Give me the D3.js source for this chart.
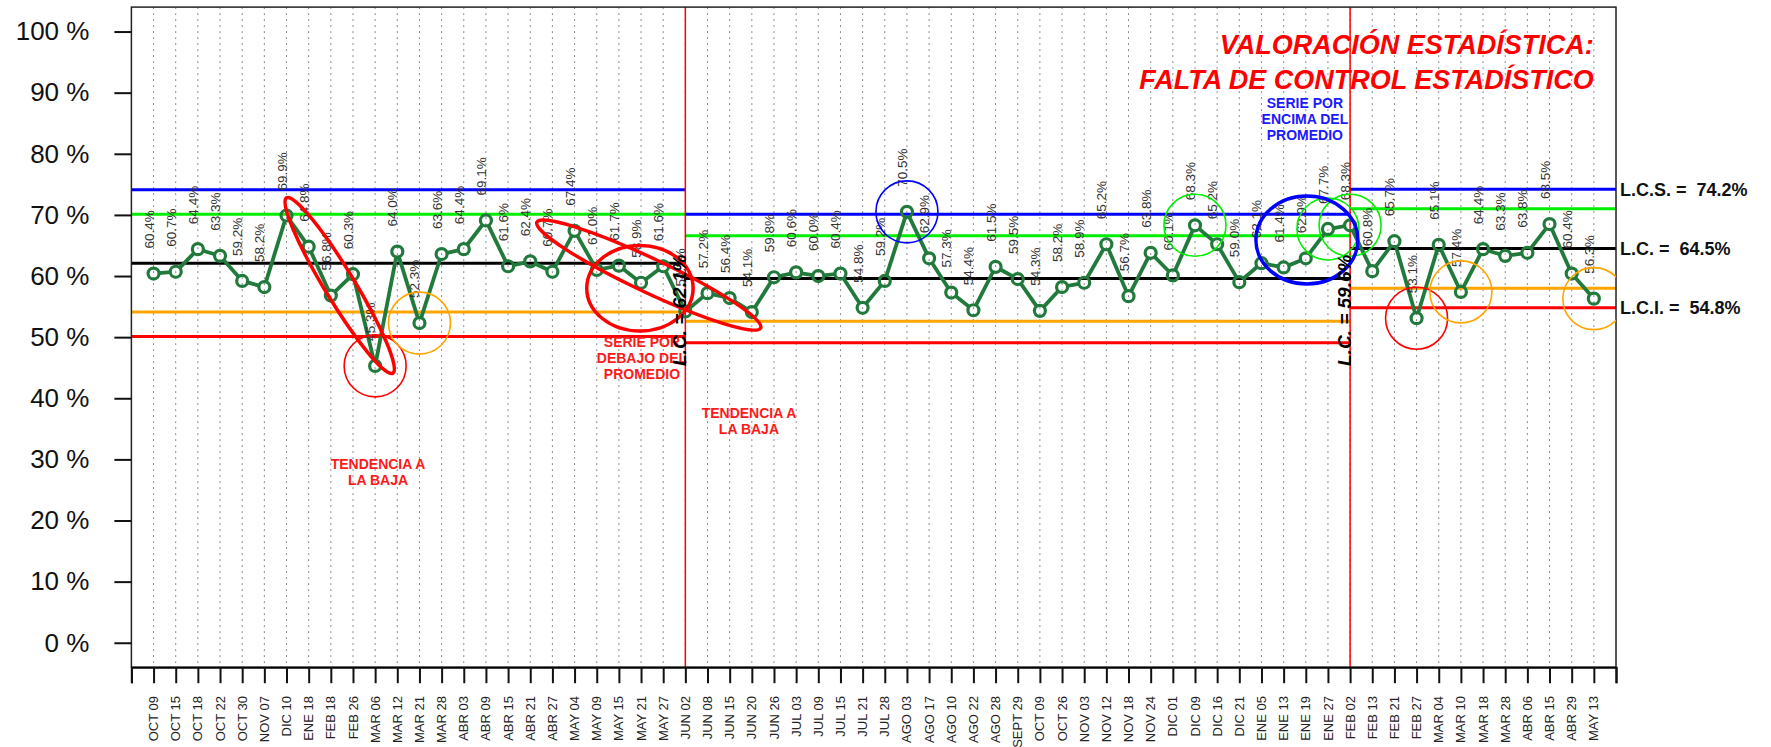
<!DOCTYPE html>
<html>
<head>
<meta charset="utf-8">
<style>
body { margin: 0; background: #fff; }
svg { display: block; }
text { font-family: "Liberation Sans", Arial, sans-serif; }
.narrow { font-family: "Liberation Sans Narrow", "Arial Narrow", "Liberation Sans", sans-serif; }
</style>
</head>
<body>
<svg width="1771" height="747"></svg>
<script src="https://d3js.org/d3.v7.min.js"></script>
<script>

var svg = d3.select("svg"),
    width = +svg.attr("width"),
    height = +svg.attr("height");

// fechas de cada medición
var fechas = ["OCT 09","OCT 15","OCT 18","OCT 22","OCT 30","NOV 07","DIC 10","ENE 18","FEB 18","FEB 26",
  "MAR 06","MAR 12","MAR 21","MAR 28","ABR 03","ABR 09","ABR 15","ABR 21","ABR 27","MAY 04",
  "MAY 09","MAY 15","MAY 21","MAY 27","JUN 02","JUN 08","JUN 15","JUN 20","JUN 26","JUL 03",
  "JUL 09","JUL 15","JUL 21","JUL 28","AGO 03","AGO 17","AGO 10","AGO 22","AGO 28","SEPT 29",
  "OCT 09","OCT 26","NOV 03","NOV 12","NOV 18","NOV 24","DIC 01","DIC 09","DIC 16","DIC 21",
  "ENE 05","ENE 13","ENE 19","ENE 27","FEB 02","FEB 13","FEB 21","FEB 27","MAR 04","MAR 10",
  "MAR 18","MAR 28","ABR 06","ABR 15","ABR 29","MAY 13"];

var valores = [60.4,60.7,64.4,63.3,59.2,58.2,69.9,64.8,56.8,60.3,
  45.3,64.0,52.3,63.6,64.4,69.1,61.6,62.4,60.7,67.4,
  61.0,61.7,58.9,61.6,54.2,57.2,56.4,54.1,59.8,60.6,
  60.0,60.4,54.8,59.2,70.5,62.9,57.3,54.4,61.5,59.5,
  54.3,58.2,58.9,65.2,56.7,63.8,60.1,68.3,65.2,59.0,
  62.1,61.4,62.9,67.7,68.3,60.8,65.7,53.1,65.1,57.4,
  64.4,63.3,63.8,68.5,60.4,56.3];

// tramos con sus límites
var tramoIni = [0, 25, 55],
    tramoFin = [25, 55, 67],
    lcs  = [74.1, 70.1, 74.2],
    lcs2 = [70.1, 66.6, 71.0],
    lc   = [62.1, 59.6, 64.5],
    lci2 = [54.1, 52.6, 58.0],
    lci  = [50.1, 49.1, 54.8];
var cortes = [25, 55];
var lcTexto = ["L.C. = 62.1%", "L.C. = 59.6%"];
var finalTexto = ["L.C.S. =  74.2%", "L.C. =  64.5%", "L.C.I. =  54.8%"];
var finalValor = [74.2, 64.5, 54.8];
var yTicks = [0, 10, 20, 30, 40, 50, 60, 70, 80, 90, 100];

// anillos alrededor de puntos (posición 1..66)
var anilloPos   = [11, 13, 35, 48, 54, 55, 58, 60, 66];
var anilloColor = ["#ff0000", "#ffa500", "#0000ff", "#00ee00", "#00ee00", "#00ee00", "#ff0000", "#ffa500", "#ffa500"];

// elipses inclinadas: extremos (posición, valor)
var elipseDesde = [[7.0, 72.8], [18.3, 68.8]],
    elipseHasta = [[11.8, 44.1], [28.4, 51.5]];
// elipses gruesas: centro y radios (posiciones, puntos %)
var ovaloCentro = [[22.95, 58.0], [53.05, 65.9]],
    ovaloRadio  = [[2.4, 7.0], [2.3, 7.2]],
    ovaloColor  = ["#ff0000", "#0000ff"];

var notaTexto = [["SERIE POR", "ENCIMA DEL", "PROMEDIO"], ["SERIE POR", "DEBAJO DEL", "PROMEDIO"],
                 ["TENDENCIA A", "LA BAJA"], ["TENDENCIA A", "LA BAJA"]];
var notaPos   = [[52.96, 87.5], [23.04, 48.4], [11.13, 28.4], [27.87, 36.8]];
var notaColor = ["#1a1aff", "#ff1a1a", "#ff1a1a", "#ff1a1a"];

var pL = 131.4, pR = 1616, pT = 7.1, pB = 667.2;

var x = d3.scaleLinear().domain([0, 67]).range([pL, pR]),
    y = d3.scaleLinear().domain([-4, 104]).range([pB, pT]);

svg.append("defs").append("clipPath").attr("id", "plot")
  .append("rect").attr("x", pL).attr("y", pT).attr("width", pR - pL).attr("height", pB - pT);

// cuadrícula punteada
svg.append("g").selectAll("line").data(fechas).enter().append("line")
  .attr("x1", (d, i) => x(i + 1)).attr("x2", (d, i) => x(i + 1))
  .attr("y1", pT).attr("y2", pB)
  .attr("stroke", "#8c8c8c").attr("stroke-width", 1).attr("stroke-dasharray", "2,4");

// líneas de control
var limites = [[lcs, "#0000ff"], [lcs2, "#00ee00"], [lc, "#000"], [lci2, "#ffa500"], [lci, "#ff0000"]];
limites.forEach(function(l) {
  svg.append("g").selectAll("line").data(l[0]).enter().append("line")
    .attr("x1", (d, i) => x(tramoIni[i])).attr("x2", (d, i) => x(tramoFin[i]))
    .attr("y1", d => y(d)).attr("y2", d => y(d))
    .attr("stroke", l[1]).attr("stroke-width", 3);
});

// cortes
svg.append("g").selectAll("line").data(cortes).enter().append("line")
  .attr("x1", d => x(d)).attr("x2", d => x(d))
  .attr("y1", pT).attr("y2", pB)
  .attr("stroke", "#ff0000").attr("stroke-width", 1.5);

// marco y ejes
svg.append("rect").attr("x", pL).attr("y", pT).attr("width", pR - pL).attr("height", pB - pT)
  .attr("fill", "none").attr("stroke", "#222").attr("stroke-width", 1.5);

var xAxis = d3.axisBottom(x).tickValues(d3.range(0, 68)).tickSize(16).tickFormat("");
svg.append("g").attr("transform", "translate(0," + pB + ")").call(xAxis)
  .call(g => g.select(".domain").attr("stroke-width", 2))
  .call(g => g.selectAll(".tick line").attr("stroke-width", 2).attr("stroke", "#111"));

svg.append("g").selectAll("text").data(fechas).enter().append("text")
  .attr("transform", (d, i) => "translate(" + x(i + 1) + ",696) rotate(-90)")
  .attr("text-anchor", "end").attr("dy", "0.35em")
  .attr("font-size", 13).attr("fill", "#222")
  .text(d => d);

var yAxis = d3.axisLeft(y).tickValues(yTicks).tickSize(17).tickPadding(25).tickFormat(d => d + " %");
svg.append("g").attr("transform", "translate(" + pL + ",0)").call(yAxis)
  .call(g => g.select(".domain").remove())
  .call(g => g.selectAll(".tick line").attr("stroke-width", 2).attr("stroke", "#111"))
  .call(g => g.selectAll(".tick text").attr("font-family", null)
    .style("font-family", '"Liberation Sans", Arial, sans-serif').attr("font-size", 26).attr("fill", "#111"));

// serie
var r = 5.5, verde = "#217a3c";
var puntos = valores.map((v, i) => [x(i + 1), y(v)]);
var segs = [];
for (var i = 0; i < puntos.length - 1; i++) {
  var a = puntos[i], b = puntos[i + 1],
      dx = b[0] - a[0], dy = b[1] - a[1], L = Math.sqrt(dx * dx + dy * dy);
  segs.push([[a[0] + dx / L * r, a[1] + dy / L * r], [b[0] - dx / L * r, b[1] - dy / L * r]]);
}
svg.append("g").selectAll("line").data(segs).enter().append("line")
  .attr("x1", d => d[0][0]).attr("y1", d => d[0][1])
  .attr("x2", d => d[1][0]).attr("y2", d => d[1][1])
  .attr("stroke", verde).attr("stroke-width", 3.8);
svg.append("g").selectAll("circle").data(valores).enter().append("circle")
  .attr("cx", (d, i) => x(i + 1)).attr("cy", d => y(d)).attr("r", r)
  .attr("fill", "none").attr("stroke", verde).attr("stroke-width", 3.2);

// etiquetas de valores
svg.append("g").selectAll("text").data(valores).enter().append("text")
  .attr("class", "narrow")
  .attr("transform", (d, i) => "translate(" + x(i + 1) + "," + (y(d) - 25) + ") rotate(-90)")
  .attr("font-size", 13.5).attr("fill", "#333")
  .text(d => d.toFixed(1) + "%");

// anotaciones
var notas = svg.append("g").attr("clip-path", "url(#plot)");
notas.selectAll(".anillo").data(anilloPos).enter().append("circle")
  .attr("cx", d => x(d)).attr("cy", d => y(valores[d - 1])).attr("r", 31)
  .attr("fill", "none").attr("stroke", (d, i) => anilloColor[i]).attr("stroke-width", 1.6);

elipseDesde.forEach(function(p, i) {
  var q = elipseHasta[i],
      x0 = x(p[0]), y0 = y(p[1]), x1 = x(q[0]), y1 = y(q[1]),
      ang = Math.atan2(y1 - y0, x1 - x0) * 180 / Math.PI,
      len = Math.sqrt((x1 - x0) * (x1 - x0) + (y1 - y0) * (y1 - y0));
  notas.append("ellipse")
    .attr("transform", "translate(" + (x0 + x1) / 2 + "," + (y0 + y1) / 2 + ") rotate(" + ang + ")")
    .attr("rx", len / 2).attr("ry", i == 0 ? 15 : 17)
    .attr("fill", "none").attr("stroke", "#ff0000").attr("stroke-width", 3.5);
});

ovaloCentro.forEach(function(c, i) {
  notas.append("ellipse")
    .attr("cx", x(c[0])).attr("cy", y(c[1]))
    .attr("rx", x(c[0] + ovaloRadio[i][0]) - x(c[0]))
    .attr("ry", y(c[1]) - y(c[1] + ovaloRadio[i][1]))
    .attr("fill", "none").attr("stroke", ovaloColor[i]).attr("stroke-width", 3.5);
});

notaTexto.forEach(function(t, i) {
  var g = svg.append("text").attr("text-anchor", "middle").attr("font-weight", "bold")
    .attr("font-size", 14).attr("fill", notaColor[i]);
  t.forEach(function(s, k) {
    g.append("tspan").attr("x", x(notaPos[i][0])).attr("y", y(notaPos[i][1]) + k * 16).text(s);
  });
});

// títulos de línea central en los cortes
svg.append("g").selectAll("text").data(cortes).enter().append("text")
  .attr("transform", d => "translate(" + (x(d) + 1) + ",366) rotate(-90)")
  .attr("font-size", 19).attr("font-weight", "bold").attr("font-style", "italic").attr("fill", "#000")
  .text((d, i) => lcTexto[i]);

// etiquetas finales
svg.append("g").selectAll("text").data(finalValor).enter().append("text")
  .attr("x", pR + 4).attr("y", d => y(d)).attr("dy", "0.35em")
  .attr("font-size", 18).attr("font-weight", "bold").attr("fill", "#111")
  .style("white-space", "pre")
  .text((d, i) => finalTexto[i]);

// título
var titulo = svg.append("text").attr("text-anchor", "end").attr("font-weight", "bold")
  .attr("font-style", "italic").attr("font-size", 27).attr("fill", "#ff0000");
titulo.append("tspan").attr("x", x(66)).attr("y", y(96.3)).text("VALORACIÓN ESTADÍSTICA:");
titulo.append("tspan").attr("x", x(66)).attr("y", y(90.6)).text("FALTA DE CONTROL ESTADÍSTICO");

</script>
</body>
</html>
